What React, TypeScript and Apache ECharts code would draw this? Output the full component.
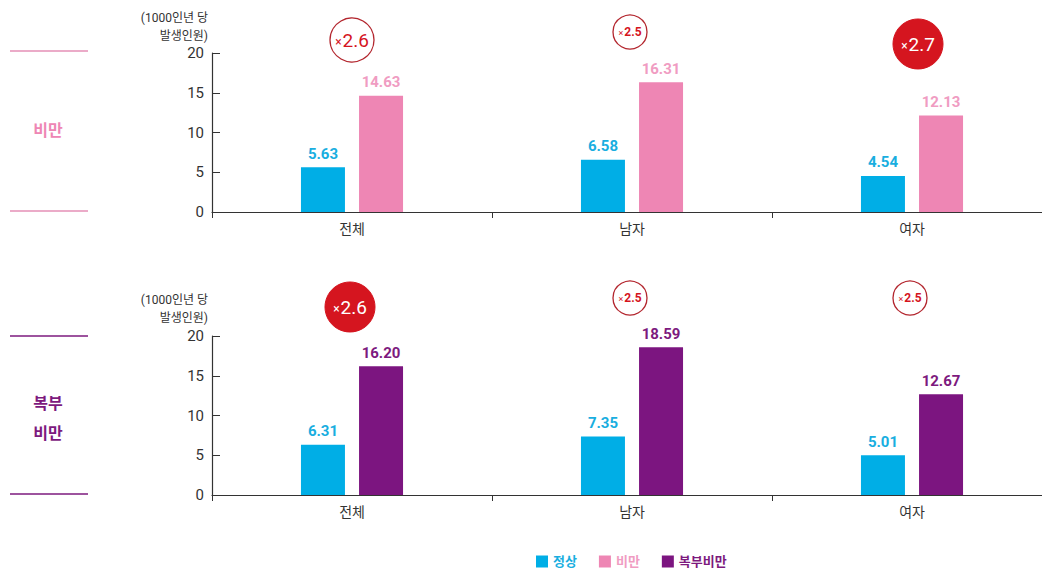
import React, { useEffect, useRef } from "react";
import * as echarts from "echarts";

const categories = ["전체", "남자", "여자"];
const obesityNormal = [5.63, 6.58, 4.54];
const obesityObese = [14.63, 16.31, 12.13];
const abdNormal = [6.31, 7.35, 5.01];
const abdObese = [16.2, 18.59, 12.67];
const obesityRatios = ["2.6", "2.5", "2.7"];
const abdRatios = ["2.6", "2.5", "2.5"];
const yTicks = [0, 5, 10, 15, 20];

const FONT = 'Roboto, "Noto Sans CJK KR", sans-serif';
const CYAN = "#00aee6";
const PINK = "#ee86b4";
const PURPLE = "#7c1580";
const RED = "#d5151f";

export default function App() {
  const ref = useRef<HTMLDivElement>(null);
  useEffect(() => {
    if (!ref.current) return;
    const chart = echarts.init(ref.current, null, { renderer: "svg" });

    const grids = [
      { left: 212, top: 53, width: 840, height: 159, outerBoundsMode: "none", containLabel: false },
      { left: 212, top: 336, width: 840, height: 159, outerBoundsMode: "none", containLabel: false },
    ];

    const xAxis = [0, 1].map((i) => ({
      type: "category",
      gridIndex: i,
      data: categories,
      axisLine: { lineStyle: { color: "#333", width: 1.2 } },
      axisTick: { show: true, length: 6, lineStyle: { color: "#333" }, alignWithLabel: false },
      axisLabel: { color: "#333", fontSize: 14, fontFamily: FONT, margin: 10 },
    }));

    const yAxis = [0, 1].map((i) => ({
      type: "value",
      gridIndex: i,
      min: yTicks[0],
      max: yTicks[yTicks.length - 1],
      interval: 5,
      axisLine: { show: true, lineStyle: { color: "#333", width: 1.2 } },
      axisTick: { show: true, inside: true, length: 8, lineStyle: { color: "#333" } },
      splitLine: { show: false },
      axisLabel: { color: "#333", fontSize: 15, fontFamily: FONT, margin: 8 },
    }));

    const labelStyle = (color: string) => ({
      show: true,
      position: "top",
      distance: 6,
      color,
      fontSize: 15,
      fontWeight: "bold",
      fontFamily: FONT,
      formatter: (p: any) => Number(p.value).toFixed(2),
    });

    const series: any[] = [
      {
        name: "정상", type: "bar", xAxisIndex: 0, yAxisIndex: 0, data: obesityNormal,
        barWidth: 44, barGap: "32%", itemStyle: { color: CYAN }, label: labelStyle("#19aee0"),
      },
      {
        name: "비만", type: "bar", xAxisIndex: 0, yAxisIndex: 0, data: obesityObese,
        barWidth: 44, barGap: "32%", itemStyle: { color: PINK }, label: labelStyle("#f09cc2"),
      },
      {
        name: "정상", type: "bar", xAxisIndex: 1, yAxisIndex: 1, data: abdNormal,
        barWidth: 44, barGap: "32%", itemStyle: { color: CYAN }, label: labelStyle("#19aee0"),
      },
      {
        name: "복부비만", type: "bar", xAxisIndex: 1, yAxisIndex: 1, data: abdObese,
        barWidth: 44, barGap: "32%", itemStyle: { color: PURPLE }, label: labelStyle("#7d1a7e"),
      },
    ];

    const badge = (cx: number, cy: number, r: number, val: string, filled: boolean, big: boolean) => ({
      type: "group",
      children: [
        {
          type: "circle",
          shape: { cx, cy, r },
          style: filled
            ? { fill: RED, stroke: RED }
            : { fill: "#fff", stroke: "#b3262e", lineWidth: 1.3 },
        },
        {
          type: "text",
          x: cx,
          y: cy,
          style: {
            text: `{x|×}{n|${val}}`,
            align: "center",
            verticalAlign: "middle",
            rich: {
              x: { fontSize: big ? 12 : 9, fill: filled ? "#fff" : RED, fontFamily: FONT, padding: [big ? 4 : 2, 1, 0, 0] },
              n: { fontSize: big ? 19 : 12, fill: filled ? "#fff" : RED, fontFamily: FONT, fontWeight: big ? "normal" : "bold" },
            },
          },
        },
      ],
    });

    const yName = (top: number) => ({
      type: "text",
      x: 208,
      y: top,
      style: {
        text: "(1000인년 당\n발생인원)",
        align: "right",
        verticalAlign: "top",
        fontSize: 12,
        lineHeight: 18,
        fill: "#333",
        fontFamily: FONT,
      },
    });

    const sideLine = (y: number, color: string) => ({
      type: "line",
      shape: { x1: 10, y1: y, x2: 88, y2: y },
      style: { stroke: color, lineWidth: 1.3 },
    });

    const graphic: any[] = [
      yName(9),
      yName(291),
      sideLine(51, "#e58fb6"),
      sideLine(211, "#e58fb6"),
      sideLine(336, "#7d1a7e"),
      sideLine(494, "#7d1a7e"),
      {
        type: "text", x: 48, y: 130,
        style: { text: "비만", align: "center", verticalAlign: "middle", fontSize: 16, fontWeight: "bold", fill: "#ee86b4", fontFamily: FONT },
      },
      {
        type: "text", x: 48, y: 418,
        style: { text: "복부\n비만", align: "center", verticalAlign: "middle", fontSize: 16, lineHeight: 30, fontWeight: "bold", fill: "#7d1a7e", fontFamily: FONT },
      },
      badge(352, 40, 22, obesityRatios[0], false, true),
      badge(630, 32, 17, obesityRatios[1], false, false),
      badge(918, 44, 25, obesityRatios[2], true, true),
      badge(350, 307, 25, abdRatios[0], true, true),
      badge(630, 298, 17, abdRatios[1], false, false),
      badge(910, 298, 17, abdRatios[2], false, false),
    ];

    chart.setOption({
      animation: false,
      textStyle: { fontFamily: FONT },
      grid: grids,
      xAxis,
      yAxis,
      series,
      legend: {
        data: [
          { name: "정상", textStyle: { color: "#19aee0" } },
          { name: "비만", textStyle: { color: "#f09cc2" } },
          { name: "복부비만", textStyle: { color: "#7d1a7e" } },
        ],
        bottom: -5,
        left: 531,
        itemWidth: 12,
        itemHeight: 12,
        itemGap: 22,
        icon: "rect",
        textStyle: { fontSize: 13, fontFamily: FONT, fontWeight: "bold" },
      },
      graphic,
    });

    return () => chart.dispose();
  }, []);

  return (
    <div
      ref={ref}
      style={{ position: "fixed", left: 0, top: 0, width: 1042, height: 568, background: "#fff" }}
    />
  );
}
